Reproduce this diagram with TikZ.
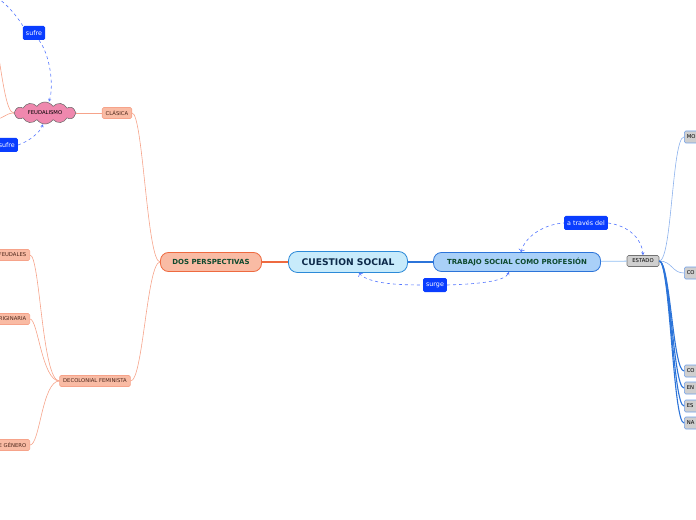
\documentclass[tikz,border=0pt]{standalone}
\usepackage{fontspec}
\setmainfont{DejaVu Sans}
\usepackage{xcolor}
\usepackage{tikz}
\usetikzlibrary{arrows.meta,positioning,calc,shapes.symbols}
\definecolor{topicblue}{HTML}{C8EBFB}
\definecolor{topicedge}{HTML}{2C8AD8}
\definecolor{navytext}{HTML}{0D2A4A}
\definecolor{mainblue}{HTML}{A9D0F8}
\definecolor{mainedge}{HTML}{2C74D9}
\definecolor{greentext}{HTML}{0E4A2E}
\definecolor{salmonfill}{HTML}{F9BBA4}
\definecolor{salmonedge}{HTML}{EE6A40}
\definecolor{salmonline}{HTML}{F6A38A}
\definecolor{browntext}{HTML}{4A2418}
\definecolor{cloudpink}{HTML}{EF88AE}
\definecolor{stategray}{HTML}{CFCFCF}
\definecolor{leafedge}{HTML}{6F9FE8}
\definecolor{tagblue}{HTML}{0A3DFF}
\definecolor{relblue}{HTML}{5577FF}

\begin{document}
\begin{tikzpicture}[
  x=1bp, y=-1bp,
  topicbox/.style={rectangle, draw=topicedge, fill=topicblue, rounded corners=9bp, line width=0.8pt, minimum width=119bp, minimum height=21bp, inner sep=1bp, text=navytext, font=\fontsize{9.2}{10}\selectfont\bfseries},
  mainbox/.style={rectangle, draw=mainedge, fill=mainblue, rounded corners=8bp, line width=0.8pt, minimum width=167bp, minimum height=19bp, inner sep=1bp, text=greentext, font=\fontsize{7}{8}\selectfont\bfseries},
  persbox/.style={mainbox, draw=salmonedge, fill=salmonfill, minimum width=101bp},
  subbox/.style={rectangle, draw=salmonline, fill=salmonfill, rounded corners=1.5bp, line width=0.6pt, minimum height=11bp, inner ysep=2bp, inner xsep=3.5bp, text=browntext, font=\fontsize{5.3}{6}\selectfont},
  ideabox/.style={cloud, cloud puffs=12, cloud puff arc=115, aspect=3.1, draw=gray!80!black, fill=cloudpink, line width=0.5pt, minimum width=62bp, minimum height=20bp, inner sep=0pt, text=black, font=\fontsize{5.3}{6}\selectfont},
  statebox/.style={rectangle, draw=gray!90!black, fill=stategray, rounded corners=1.5bp, line width=0.6pt, minimum width=32bp, minimum height=11bp, inner sep=1bp, font=\fontsize{5.3}{6}\selectfont},
  leafbox/.style={rectangle, draw=leafedge, fill=stategray, rounded corners=1.5bp, line width=0.6pt, minimum height=12bp, inner sep=2.5bp, text width=30bp, align=left, font=\fontsize{5.3}{6}\selectfont},
  tagbox/.style={rectangle, fill=tagblue, rounded corners=1.5bp, minimum height=14bp, inner sep=3bp, text=white, font=\fontsize{6.4}{7}\selectfont},
  branch/.style={line width=0.6pt, color=salmonline},
  statelink/.style={line width=0.6pt, color=leafedge!80!white},
  relation/.style={dashed, line width=0.6pt, color=relblue, -{Stealth[length=3bp,width=3.2bp]}}
]
\useasboundingbox (0,0) rectangle (696,520);
\clip (0,0) rectangle (696,520);

\node[topicbox] (cs) at (348,262) {CUESTION SOCIAL};
\node[persbox] (dos) at (211,262) {DOS PERSPECTIVAS};
\node[mainbox] (tsp) at (517,262) {TRABAJO SOCIAL COMO PROFESIÓN};
\node[statebox] (estado) at (643,261) {ESTADO};

\node[subbox] (clasica) at (117,113) {CLÁSICA};
\node[ideabox] (feud) at (45,113) {FEUDALISMO};
\node[subbox] (deco) at (95,381) {DECOLONIAL FEMINISTA};
\node[subbox, anchor=east, text width=50bp, align=right] (feudales) at (30,255) {FEUDALES};
\node[subbox, anchor=east, text width=50bp, align=right] (originaria) at (30,319) {ORIGINARIA};
\node[subbox, anchor=east, text width=50bp, align=right] (genero) at (30,445) {DE GÉNERO};

\node[leafbox, anchor=west] (mo) at (684,137) {MO};
\node[leafbox, anchor=west] (co1) at (684,273) {CO};
\node[leafbox, anchor=west] (co2) at (684,371) {CO};
\node[leafbox, anchor=west] (en) at (684,388) {EN};
\node[leafbox, anchor=west] (es) at (684,406) {ES};
\node[leafbox, anchor=west] (na) at (684,423) {NA};

\node[tagbox] (atraves) at (586,223) {a través del};
\node[tagbox] (surge) at (435,285) {surge};
\node[tagbox] (sufre1) at (34,33) {sufre};
\node[tagbox, anchor=east] (sufre2) at (18,145) {sufre};

\coordinate (offtop) at (-8,-6);
\coordinate (feudup) at (-4,40);
\coordinate (feuddown) at (-4,119);

\draw[line width=1.6pt, color=salmonedge] (dos) -- (cs);
\draw[line width=1.6pt, color=mainedge] (cs) -- (tsp);
\draw[line width=0.8pt, color=mainblue!80!mainedge] (tsp) -- (estado);

\draw[branch] (dos.west) .. controls (147,262) and (143,113) .. (clasica.east);
\draw[branch] (dos.west) .. controls (147,262) and (143,381) .. (deco.east);
\draw[branch] (clasica) -- (feud);
\draw[branch] (feud.west) .. controls (6,113) and (2,75) .. (feudup);
\draw[branch] (feud.west) .. controls (6,113) and (3,119) .. (feuddown);
\draw[branch] (deco.west) .. controls (42,381) and (40,255) .. (feudales.east);
\draw[branch] (deco.west) .. controls (42,381) and (38,319) .. (originaria.east);
\draw[branch] (deco.west) .. controls (42,381) and (40,445) .. (genero.east);

\draw[statelink] (estado.east) .. controls (672,261) and (672,137) .. (mo.west);
\draw[statelink] (estado.east) .. controls (672,261) and (672,273) .. (co1.west);
\draw[line width=1.1pt, color=mainedge] (estado.east) .. controls (670,261) and (673,371) .. (co2.west);
\draw[line width=1.1pt, color=mainedge] (estado.east) .. controls (670,261) and (673,388) .. (en.west);
\draw[line width=1.1pt, color=mainedge] (estado.east) .. controls (670,261) and (673,406) .. (es.west);
\draw[line width=1.1pt, color=mainedge] (estado.east) .. controls (670,261) and (673,423) .. (na.west);

\draw[relation, <-] ($(tsp.north)+(4,0)$) .. controls (525,236) and (545,224) .. (atraves.west);
\draw[relation] (atraves.east) .. controls (630,226) and (642,240) .. (estado.north);
\draw[relation, <-] ($(cs.south)+(11,0)$) .. controls (368,284) and (400,285) .. (surge.west);
\draw[relation] (surge.east) .. controls (480,284) and (505,281) .. ($(tsp.south)+(-8,0)$);
\draw[dashed, line width=0.6pt, color=relblue] (offtop) .. controls (8,4) and (18,18) .. (sufre1.north west);
\draw[relation] ($(sufre1.south)+(5,0)$) .. controls (50,55) and (54,85) .. ($(feud.north)+(4,0)$);
\draw[relation] (sufre2.east) .. controls (30,141) and (40,132) .. ($(feud.south)+(-2,0)$);
\end{tikzpicture}
\end{document}
